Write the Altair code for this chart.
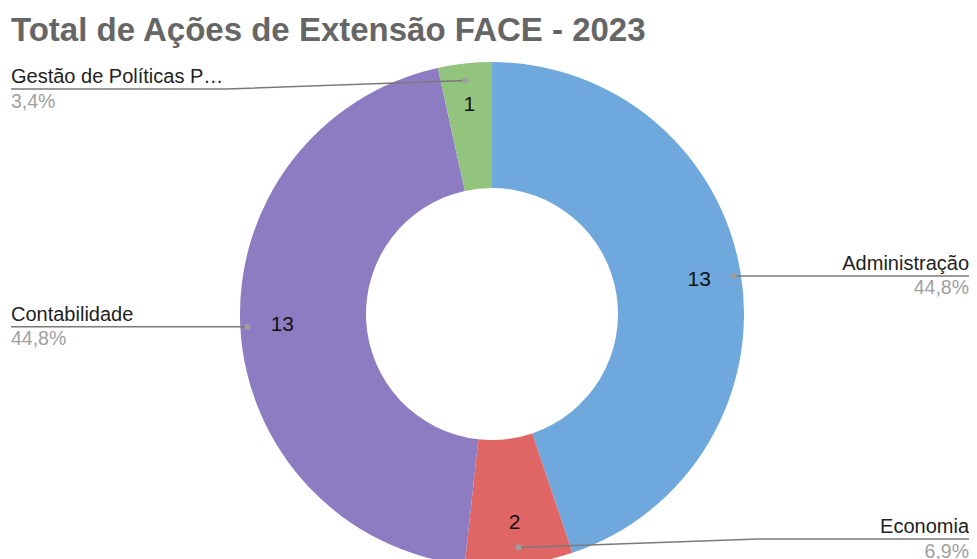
import altair as alt
import numpy as np
import pandas as pd

# ---------------- data ----------------
title_text = "Total de Ações de Extensão FACE - 2023"
categories = ["Administração", "Economia", "Contabilidade", "Gestão de Políticas P…"]
values = [13, 2, 13, 1]
colors = ["#6fa8dc", "#e06666", "#8e7cc3", "#93c47d"]

# ---------------- layout ----------------
W, H = 961, 551
CX, CY = 484, 306
R_OUT, R_IN = 252, 126
R_NUM = 210
DOT_RX, DOT_RY = 245, 235
LABEL_Y_MIN, LABEL_Y_MAX = 81, 531
ELBOW = 240
X_LEFT, X_RIGHT = 3, 961
FONT = "Liberation Sans"

total = sum(values)
vals = np.array(values, dtype=float)
df = pd.DataFrame({"category": categories, "value": values, "order": list(range(len(values)))})
df["pct"] = [f"{v / total * 100:.1f}".replace(".", ",") + "%" for v in values]

mid = (np.cumsum(vals) - vals / 2) / total * 2 * np.pi
dot_x = CX + DOT_RX * np.sin(mid)
dot_y = CY - DOT_RY * np.cos(mid)
side = np.where(mid < np.pi, 1, -1)
label_y = np.clip(dot_y, LABEL_Y_MIN, LABEL_Y_MAX)
end_x = np.where(side > 0, X_RIGHT, X_LEFT)
elbow_x = np.where(side > 0, np.minimum(dot_x + ELBOW, X_RIGHT), np.maximum(dot_x - ELBOW, X_LEFT))

df["dot_x"] = dot_x
df["dot_y"] = dot_y
df["side"] = np.where(side > 0, "right", "left")
df["end_x"] = end_x
df["label_y"] = label_y
df["name_y"] = label_y - 6
df["pct_y"] = label_y + 18.5

rows = []
for i, c in enumerate(categories):
    rows.append({"category": c, "pt": 0, "x": dot_x[i], "y": dot_y[i]})
    rows.append({"category": c, "pt": 1, "x": elbow_x[i], "y": label_y[i]})
    rows.append({"category": c, "pt": 2, "x": end_x[i], "y": label_y[i]})
lines_df = pd.DataFrame(rows)

base = alt.Chart(df)

arcs = base.mark_arc(outerRadius=R_OUT, innerRadius=R_IN, x=CX, y=CY).encode(
    theta=alt.Theta("value:Q", stack=True),
    order=alt.Order("order:Q"),
    color=alt.Color("category:N", scale=alt.Scale(domain=categories, range=colors), legend=None),
)

nums = base.mark_text(radius=R_NUM, x=CX, y=CY, fontSize=21, font=FONT, color="#111111",
                      align="center", baseline="middle").encode(
    theta=alt.Theta("value:Q", stack=True),
    order=alt.Order("order:Q"),
    detail="category:N",
    text="value:Q",
)

leaders = alt.Chart(lines_df).mark_line(color="#7a7a7a", strokeWidth=1.5).encode(
    x=alt.X("x:Q", scale=None),
    y=alt.Y("y:Q", scale=None),
    detail="category:N",
    order=alt.Order("pt:Q"),
)

dots = base.mark_circle(size=36, color="#9e9e9e", opacity=1).encode(
    x=alt.X("dot_x:Q", scale=None),
    y=alt.Y("dot_y:Q", scale=None),
)

def side_labels(s, align):
    b = base.transform_filter(alt.datum.side == s)
    names = b.mark_text(align=align, baseline="alphabetic", fontSize=20, font=FONT, color="#222222").encode(
        x=alt.X("end_x:Q", scale=None), y=alt.Y("name_y:Q", scale=None), text="category:N")
    pcts = b.mark_text(align=align, baseline="alphabetic", fontSize=19.5, font=FONT, color="#a0a0a0").encode(
        x=alt.X("end_x:Q", scale=None), y=alt.Y("pct_y:Q", scale=None), text="pct:N")
    return names + pcts

title = alt.Chart(pd.DataFrame({"t": [title_text]})).mark_text(
    align="left", baseline="alphabetic", fontSize=33, fontWeight="bold", font=FONT, color="#666666"
).encode(x=alt.value(3), y=alt.value(33), text="t:N")

chart = alt.layer(
    arcs, nums, leaders, dots, side_labels("right", "right"), side_labels("left", "left"), title
).properties(
    width=W, height=H, autosize=alt.AutoSizeParams(type="none"), padding=0
).configure_view(stroke=None)

chart.save("out.html", embed_options={"renderer": "svg", "actions": False})
